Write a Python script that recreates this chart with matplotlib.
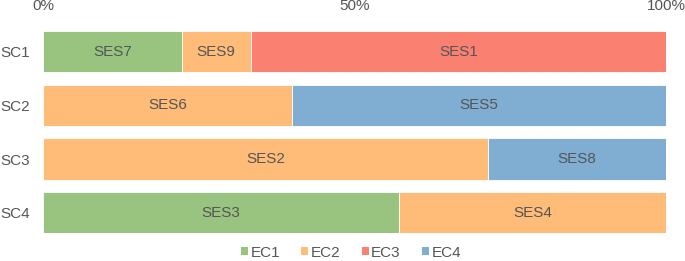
import matplotlib.pyplot as plt
from matplotlib.patches import Patch

plt.rcParams['font.family'] = ['Liberation Sans', 'DejaVu Sans']

# Data (percent of each scenario)
scenarios = ['SC1', 'SC2', 'SC3', 'SC4']
seg_labels = [['SES7', 'SES9', 'SES1'],
              ['SES6', 'SES5'],
              ['SES2', 'SES8'],
              ['SES3', 'SES4']]
seg_classes = [['EC1', 'EC2', 'EC3'],
               ['EC2', 'EC4'],
               ['EC2', 'EC4'],
               ['EC1', 'EC2']]
seg_values = [[22.2, 11.1, 66.7],
              [40.0, 60.0],
              [71.4, 28.6],
              [57.1, 42.9]]
classes = ['EC1', 'EC2', 'EC3', 'EC4']
colors = {'EC1': '#98C47F', 'EC2': '#FFBC78', 'EC3': '#FA8072', 'EC4': '#80AED2'}

text_color = '#555555'
bar_h = 0.765

fig = plt.figure(figsize=(6.85, 2.61), dpi=100)
ax = fig.add_axes([0.0632, 0.1061, 0.9091, 0.7751])

for i, sc in enumerate(scenarios):
    left = 0
    for lab, cls, val in zip(seg_labels[i], seg_classes[i], seg_values[i]):
        ax.barh(i, val, left=left, height=bar_h, color=colors[cls],
                edgecolor='white', linewidth=0.6)
        ax.text(left + val / 2, i, lab, ha='center', va='center',
                fontsize=11, color=text_color)
        left += val

ax.set_xlim(0, 100)
ax.set_ylim(3 + bar_h / 2, -bar_h / 2)
ax.set_yticks(range(len(scenarios)))
ax.set_yticklabels(scenarios)
ax.set_xticks([0, 50, 100])
ax.set_xticklabels(['0%', '50%', '100%'])
ax.xaxis.tick_top()
ax.tick_params(axis='x', length=0, pad=13, labelsize=11, labelcolor=text_color)
ax.tick_params(axis='y', length=0, pad=9.5, labelsize=11, labelcolor=text_color)
for s in ax.spines.values():
    s.set_visible(False)

handles = [Patch(facecolor=colors[c], edgecolor='none', label=c) for c in classes]
leg = fig.legend(handles=handles, loc='center', bbox_to_anchor=(0.5124, 0.032),
                 ncol=4, frameon=False, fontsize=11, handlelength=0.46,
                 handleheight=0.46, handletextpad=0.15, columnspacing=1.4,
                 borderpad=0, labelcolor=text_color)

fig.savefig('out.png', dpi=100)
